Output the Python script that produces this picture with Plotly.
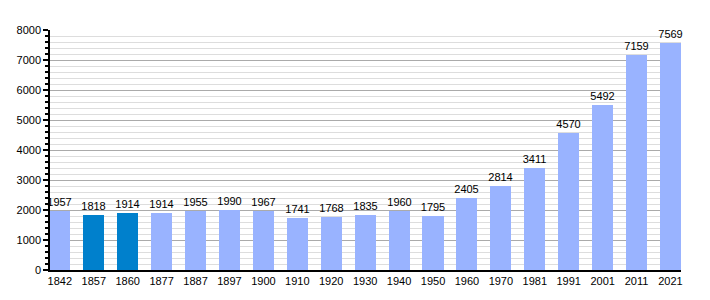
import plotly.graph_objects as go

years = ["1842", "1857", "1860", "1877", "1887", "1897", "1900", "1910", "1920", "1930",
         "1940", "1950", "1960", "1970", "1981", "1991", "2001", "2011", "2021"]
population = [1957, 1818, 1914, 1914, 1955, 1990, 1967, 1741, 1768, 1835,
              1960, 1795, 2405, 2814, 3411, 4570, 5492, 7159, 7569]
highlight = ["1857", "1860"]

light = "#99B3FF"
dark = "#0080CC"
colors = [dark if y in highlight else light for y in years]

fig = go.Figure(go.Bar(
    x=list(range(len(years))),
    y=population,
    width=0.62,
    marker=dict(color=colors, line=dict(width=0)),
    text=[str(v) for v in population],
    textposition="outside",
    constraintext="none",
    textfont=dict(family="Liberation Sans, Arial, sans-serif", size=11, color="#000"),
    cliponaxis=False,
    hoverinfo="x+y",
))

fig.update_layout(
    width=710, height=300,
    margin=dict(l=50, r=29, t=30, b=30),
    paper_bgcolor="white", plot_bgcolor="white",
    font=dict(family="Liberation Sans, Arial, sans-serif", size=11, color="#000"),
    showlegend=False,
    bargap=0,
)
fig.update_xaxes(
    range=[-0.29, 18.31],
    tickmode="array", tickvals=list(range(len(years))), ticktext=years,
    showline=True, linecolor="black", linewidth=2,
    showgrid=False, ticks="", zeroline=False,
)
fig.update_yaxes(
    range=[0, 8000],
    tickmode="linear", tick0=0, dtick=1000,
    showline=True, linecolor="black", linewidth=1.5,
    ticks="outside", ticklen=5, tickcolor="black", tickwidth=1.5,
    showgrid=True, gridcolor="#AAAAAA", gridwidth=1,
    zeroline=False,
    minor=dict(dtick=200, showgrid=True, gridcolor="#DDDDDD", gridwidth=1,
               ticks="outside", ticklen=3, tickcolor="black", tickwidth=1.5),
    layer="below traces",
)

fig.write_html("out.html")
